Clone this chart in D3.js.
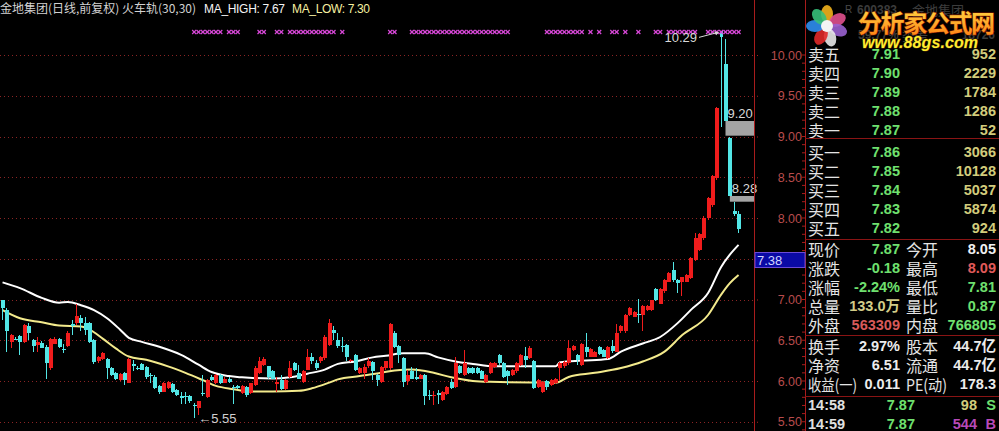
<!DOCTYPE html>
<html><head><meta charset="utf-8">
<script src="https://cdn.jsdelivr.net/npm/d3@7/dist/d3.min.js"></script>
<style>
html,body{margin:0;padding:0;background:#000;overflow:hidden}
svg{display:block}
</style></head><body>
<svg id="c" width="999" height="431"></svg>
<script>
// ---------------- DATA ----------------
const stockTitle = "金地集团(日线,前复权) 火车轨(30,30)";
const maHighText = "MA_HIGH: 7.67";
const maLowText = "MA_LOW: 7.30";

const openP = [6.99,6.87,6.48,6.52,6.55,6.48,6.67,6.50,6.44,6.47,
6.42,6.16,6.46,6.51,6.39,6.43,6.70,6.71,6.77,6.71,
6.71,6.50,6.24,6.27,6.27,6.16,6.10,6.01,6.10,5.98,
6.21,6.16,6.21,6.17,6.07,6.05,5.94,5.87,5.91,5.96,
5.89,5.81,5.81,5.82,5.71,5.67,5.85,5.80,6.05,5.97,
6.07,5.98,6.03,5.93,5.94,5.85,5.93,5.85,5.95,6.10,
6.20,6.18,6.12,5.96,6.01,5.90,6.05,6.22,6.10,5.99,
6.14,6.30,6.22,6.24,6.28,6.44,6.62,6.50,6.43,6.44,
6.24,6.32,6.10,6.10,6.18,6.23,6.07,5.99,6.16,6.16,
6.59,6.43,6.28,6.00,6.12,6.05,6.03,6.07,5.83,5.82,
5.85,5.77,5.84,5.99,5.93,6.18,6.07,6.16,6.16,6.16,
6.12,5.99,6.10,6.17,6.32,6.22,6.12,6.07,6.12,6.20,
6.31,6.28,6.25,5.93,5.87,6.00,5.95,5.97,6.16,6.18,
6.22,6.38,6.32,6.20,6.42,6.30,6.30,6.42,6.38,6.28,
6.43,6.36,6.61,6.61,6.81,6.79,6.82,6.81,6.87,6.87,
7.13,6.95,7.10,7.22,7.36,7.24,7.22,7.22,7.26,7.49,
7.61,7.75,8.00,8.16,8.49,10.29,9.89,8.98,8.08,8.05];
const highP = [7.00,6.90,6.58,6.54,6.57,6.70,6.71,6.52,6.54,6.49,
6.44,6.53,6.54,6.53,6.46,6.61,6.75,6.95,6.81,6.79,
6.73,6.52,6.31,6.35,6.28,6.17,6.11,6.10,6.11,6.28,
6.26,6.18,6.22,6.18,6.10,6.07,5.95,5.99,6.00,5.98,
5.90,5.87,5.87,5.83,5.73,5.76,6.07,6.03,6.07,6.09,
6.09,6.05,6.05,5.95,5.95,5.95,5.94,5.98,6.18,6.29,
6.30,6.19,6.13,6.05,6.07,6.03,6.24,6.23,6.20,6.13,
6.39,6.34,6.26,6.31,6.56,6.76,6.67,6.59,6.54,6.45,
6.27,6.33,6.17,6.21,6.28,6.24,6.09,6.18,6.25,6.71,
6.61,6.44,6.29,6.14,6.17,6.16,6.09,6.09,5.89,5.88,
5.89,5.88,5.94,6.03,6.30,6.20,6.38,6.17,6.17,6.17,
6.13,6.09,6.23,6.23,6.33,6.23,6.13,6.15,6.23,6.33,
6.42,6.43,6.26,6.02,6.00,6.01,6.02,6.04,6.23,6.24,
6.50,6.44,6.33,6.47,6.59,6.40,6.37,6.43,6.39,6.43,
6.50,6.70,6.69,6.82,6.91,6.86,7.01,6.93,6.93,7.00,
7.14,7.14,7.25,7.34,7.46,7.25,7.28,7.31,7.52,7.81,
7.82,8.02,8.26,8.53,9.36,10.29,10.20,9.00,8.20,8.09];
const lowP = [6.75,6.36,6.40,6.50,6.32,6.47,6.50,6.36,6.36,6.40,
6.02,6.14,6.45,6.41,6.34,6.42,6.56,6.69,6.61,6.56,
6.47,6.21,6.22,6.26,6.03,6.06,6.01,6.00,5.95,5.97,
6.12,6.13,6.13,6.03,5.97,5.90,5.84,5.86,5.90,5.85,
5.81,5.72,5.72,5.73,5.55,5.58,5.81,5.79,6.00,5.96,
5.96,5.97,5.98,5.72,5.90,5.84,5.80,5.84,5.94,6.08,
6.18,6.03,6.02,5.87,5.89,5.89,6.04,6.12,6.02,5.98,
6.13,6.21,6.14,6.22,6.26,6.43,6.50,6.40,6.36,6.24,
6.23,6.12,6.09,6.03,6.16,6.01,5.94,5.98,6.14,6.14,
6.41,6.22,5.93,5.95,6.02,6.01,6.02,5.71,5.77,5.71,
5.72,5.75,5.83,5.90,5.92,6.09,6.06,6.08,6.09,6.09,
6.02,5.97,6.08,6.16,6.20,6.04,5.95,6.06,6.10,6.18,
6.16,6.27,5.90,5.92,5.85,5.89,5.94,5.96,6.01,6.16,
6.20,6.37,6.20,6.18,6.30,6.29,6.29,6.32,6.29,6.27,
6.34,6.35,6.59,6.59,6.80,6.78,6.71,6.61,6.86,6.86,
6.98,6.94,7.08,7.21,7.22,7.08,7.04,7.21,7.25,7.47,
7.59,7.73,7.98,8.14,8.47,9.12,9.19,8.27,8.02,7.81];
const closeP = [6.89,6.61,6.56,6.51,6.48,6.69,6.59,6.43,6.48,6.41,
6.22,6.52,6.52,6.42,6.38,6.59,6.67,6.80,6.71,6.63,
6.48,6.23,6.30,6.34,6.16,6.07,6.02,6.09,6.01,6.27,
6.18,6.15,6.14,6.05,6.06,5.91,5.86,5.98,5.99,5.87,
5.83,5.79,5.80,5.75,5.69,5.75,5.84,6.01,6.01,6.07,
5.97,6.03,5.99,5.92,5.91,5.94,5.83,5.97,6.16,6.24,
6.27,6.05,6.03,5.99,5.90,6.01,6.16,6.14,6.03,6.12,
6.29,6.24,6.16,6.30,6.54,6.71,6.59,6.43,6.42,6.30,
6.26,6.14,6.16,6.17,6.24,6.12,6.01,6.17,6.24,6.70,
6.42,6.32,5.99,6.07,6.03,6.03,6.07,5.82,5.82,5.83,
5.83,5.87,5.93,5.91,6.22,6.10,6.22,6.10,6.10,6.10,
6.03,6.07,6.22,6.22,6.22,6.05,6.06,6.14,6.22,6.32,
6.26,6.41,5.91,6.01,5.99,5.93,6.01,6.03,6.22,6.23,
6.41,6.43,6.26,6.46,6.36,6.39,6.36,6.33,6.30,6.42,
6.37,6.59,6.68,6.81,6.89,6.85,6.81,6.92,6.92,6.99,
6.99,7.13,7.24,7.33,7.24,7.20,7.27,7.30,7.51,7.75,
7.80,8.00,8.24,8.51,9.35,10.22,9.19,8.27,8.05,7.87];

// MA_HIGH (white) and MA_LOW (yellow): candle index / value
const maHighIdx = [0,4,9,13,15,18,21,24,27,29,32,36,41,45,48,52,55,62,66,70,74,77,81,85,88,92,97,100,104,108,113,123,127,128,133,139,142,147,151,155,158,162,165,167,169];
const maHighVal = [7.21,7.14,7.02,6.96,6.97,6.93,6.87,6.77,6.63,6.53,6.48,6.42,6.32,6.20,6.11,6.06,6.045,6.03,6.045,6.09,6.14,6.21,6.24,6.29,6.31,6.34,6.34,6.29,6.24,6.21,6.18,6.18,6.18,6.23,6.25,6.27,6.36,6.46,6.54,6.71,6.87,7.08,7.40,7.55,7.67];
const maLowIdx = [0,4,9,13,18,20,23,26,29,33,38,42,46,49,53,57,62,68,71,75,77,82,87,90,94,99,103,108,112,127,130,136,142,147,152,156,162,165,167,169];
const maLowVal = [6.87,6.77,6.72,6.68,6.67,6.63,6.52,6.40,6.30,6.26,6.18,6.10,6.01,5.94,5.90,5.87,5.87,5.88,5.91,5.98,6.02,6.06,6.10,6.13,6.14,6.10,6.045,6.00,5.99,5.98,6.05,6.10,6.16,6.24,6.36,6.56,6.81,7.06,7.20,7.30];

// signal marks at top (candle indices)
const signalIdx = [44,45,46,47,48,49,50,52,53,54,59,60,63,64,66,67,68,69,70,71,72,73,74,75,76,78,89,90,
94,95,96,97,98,99,100,101,102,103,104,105,106,107,108,109,110,111,112,113,114,115,116,
125,126,127,128,129,130,131,132,133,135,137,140,141,143,146,150,151,153,154,155,156,157,158,159,
162,163,164,165,166,167,168,169];

// price gaps (from candle index, top, bottom, label)
const gapFrom = [166,167];
const gapTop = [9.19,8.27];
const gapBottom = [9.01,8.20];
const gapLabel = ["9.20","8.28"];

const yTicks = [5.5,6.0,6.5,7.0,7.5,8.0,8.5,9.0,9.5,10.0];
const cursorPrice = "7.38";

// right panel
const askLabels = ["卖五","卖四","卖三","卖二","卖一"];
const askPrices = ["7.91","7.90","7.89","7.88","7.87"];
const askVols = ["952","2229","1784","1286","52"];
const bidLabels = ["买一","买二","买三","买四","买五"];
const bidPrices = ["7.86","7.85","7.84","7.83","7.82"];
const bidVols = ["3066","10128","5037","5874","924"];
const quoteL1 = ["现价","涨跌","涨幅","总量","外盘"];
const quoteV1 = ["7.87","-0.18","-2.24%","133.0万","563309"];
const quoteC1 = ["#6fe06f","#6fe06f","#6fe06f","#d2cc88","#d85a5a"];
const quoteL2 = ["今开","最高","最低","量比","内盘"];
const quoteV2 = ["8.05","8.09","7.81","0.87","766805"];
const quoteC2 = ["#f0f0f0","#e05a5a","#6fe06f","#6fe06f","#6fe06f"];
const finL1 = ["换手","净资","收益(一)"];
const finV1 = ["2.97%","6.51","0.011"];
const finL2 = ["股本","流通","PE(动)"];
const finV2 = ["44.7亿","44.7亿","178.3"];
const tickTime = ["14:58","14:59"];
const tickPrice = ["7.87","7.87"];
const tickVol = ["98","544"];
const tickSide = ["S","B"];

// ---------------- DRAW ----------------
const svg = d3.select("#c");
svg.append("rect").attr("width",999).attr("height",431).attr("fill","#000");

const N = openP.length;
const y = d3.scaleLinear().domain([5.5,10]).range([421.75,55]);
const x = d3.scaleBand().domain(d3.range(N)).range([0.8,740.3]).paddingInner(0.2);
const cx = i => x(i) + x.bandwidth()/2;
const plotRight = 754, axisRight = 805;

// grid
svg.append("g").selectAll("line").data(yTicks).join("line")
  .attr("x1",0).attr("x2",plotRight).attr("y1",d=>Math.round(y(d))+0.5).attr("y2",d=>Math.round(y(d))+0.5)
  .attr("stroke","#8a2424").attr("stroke-dasharray","1,3");

// MA lines
const lineGen = d3.line().x(d=>cx(d[0])).y(d=>y(d[1])).curve(d3.curveMonotoneX);
svg.append("path").datum(maHighIdx.map((d,k)=>[d,maHighVal[k]]))
  .attr("d",lineGen).attr("fill","none").attr("stroke","#ffffff").attr("stroke-width",2);
svg.append("path").datum(maLowIdx.map((d,k)=>[d,maLowVal[k]]))
  .attr("d",lineGen).attr("fill","none").attr("stroke","#f3ea8c").attr("stroke-width",2);

// candles
const UP = "#f01c1c", DN = "#52e6e6";
const cg = svg.append("g").attr("shape-rendering","crispEdges");
const idx = d3.range(N);
cg.selectAll("line").data(idx).join("line")
  .attr("x1",i=>Math.floor(cx(i))+0.5).attr("x2",i=>Math.floor(cx(i))+0.5)
  .attr("y1",i=>y(highP[i])).attr("y2",i=>y(lowP[i]))
  .attr("stroke",i=>closeP[i]>=openP[i]?UP:DN).attr("stroke-width",1);
cg.selectAll("rect").data(idx).join("rect")
  .attr("x",i=>Math.floor(cx(i))-1).attr("width",i=> i===165?3:4)
  .attr("y",i=>y(Math.max(openP[i],closeP[i])))
  .attr("height",i=>Math.max(1,Math.abs(y(openP[i])-y(closeP[i]))))
  .attr("fill",i=>closeP[i]>=openP[i]?UP:DN);

// gaps
gapFrom.forEach((g,k)=>{
  svg.append("rect").attr("x",cx(g)).attr("y",y(gapTop[k])).attr("width",plotRight-cx(g))
    .attr("height",y(gapBottom[k])-y(gapTop[k])).attr("fill","#a4a4a4");
  svg.append("text").attr("x",cx(g)+2).attr("y",y(gapTop[k])-3).text(gapLabel[k])
    .attr("fill","#d8d8d8").style("font","13px 'Liberation Sans'");
});

// signal marks
const sg = svg.append("g").attr("stroke","#d848d8").attr("stroke-width",1.2);
signalIdx.forEach(i=>{
  const c = cx(i);
  sg.append("line").attr("x1",c-2).attr("x2",c+2).attr("y1",30).attr("y2",34);
  sg.append("line").attr("x1",c-2).attr("x2",c+2).attr("y1",34).attr("y2",30);
});

// high / low labels
const hiI = d3.maxIndex(highP), loI = d3.minIndex(lowP);
const fmt2 = d3.format(".2f");
svg.append("text").attr("x",697).attr("y",y(highP[hiI])+11).attr("text-anchor","end")
  .text(fmt2(highP[hiI])).attr("fill","#d8d8d8").style("font","13px 'Liberation Sans'");
svg.append("line").attr("x1",699).attr("y1",y(highP[hiI])+6).attr("x2",cx(hiI)-3).attr("y2",y(highP[hiI])+1)
  .attr("stroke","#d8d8d8");
svg.append("path").attr("d",`M${cx(hiI)-2},${y(highP[hiI])+1} l-5,-1 l2,4 z`).attr("fill","#d8d8d8");
svg.append("text").attr("x",cx(loI)+4).attr("y",y(lowP[loI])+5)
  .text("←"+fmt2(lowP[loI])).attr("fill","#d0d0d0").style("font","13px 'Liberation Sans'");

// axis
svg.append("line").attr("x1",plotRight+0.5).attr("x2",plotRight+0.5).attr("y1",0).attr("y2",431).attr("stroke","#a81c1c");
svg.append("line").attr("x1",axisRight+0.5).attr("x2",axisRight+0.5).attr("y1",0).attr("y2",431).attr("stroke","#a81c1c");
const ax = svg.append("g").attr("transform",`translate(${plotRight},0)`)
  .call(d3.axisRight(y).tickValues(yTicks).tickFormat(fmt2).tickSize(6));
ax.select(".domain").remove();
ax.selectAll(".tick line").attr("stroke","#a82020").attr("stroke-dasharray","1,2");
ax.selectAll(".tick text").attr("x",48).attr("text-anchor","end").attr("fill","#b84c4c")
  .style("font","12.5px 'Liberation Sans'");
// minor ticks
const minor = d3.range(55,432,8.15);
svg.append("g").selectAll("line").data(minor).join("line")
  .attr("x1",axisRight-3).attr("x2",axisRight).attr("y1",d=>d).attr("y2",d=>d).attr("stroke","#a81c1c");

// cursor price box
svg.append("rect").attr("x",plotRight+1).attr("y",252.5).attr("width",axisRight-plotRight-1).attr("height",15)
  .attr("fill","#0a0aa6").attr("stroke","#6a4ad8");
svg.append("text").attr("x",plotRight+3).attr("y",265).text(cursorPrice)
  .attr("fill","#d0d4ff").style("font","13px 'Liberation Sans'");

// title
svg.append("text").attr("x",0).attr("y",13).text(stockTitle).attr("fill","#d2d2d2")
  .attr("textLength",196).style("font","12px 'Noto Sans CJK SC'");
svg.append("text").attr("x",204).attr("y",13).text(maHighText).attr("fill","#f4f4f4")
  .attr("textLength",81).style("font","12px 'Liberation Sans'");
svg.append("text").attr("x",292).attr("y",13).text(maLowText).attr("fill","#f6f0a0")
  .attr("textLength",78).style("font","12px 'Liberation Sans'");

// ---------------- RIGHT PANEL ----------------
const P = svg.append("g");
const labFont = "16px 'Noto Sans CJK SC'";
const numFont = "bold 14.5px 'Liberation Sans','Noto Sans CJK SC'";
function lab(xp,yp,t,col,tl){const e=P.append("text").attr("x",xp).attr("y",yp).attr("dominant-baseline","central")
  .text(t).attr("fill",col||"#e4e4e4").style("font",labFont); if(tl) e.attr("textLength",tl).attr("lengthAdjust","spacingAndGlyphs");}
function num(xp,yp,t,col){P.append("text").attr("x",xp).attr("y",yp).attr("dominant-baseline","central")
  .attr("text-anchor","end").text(t).attr("fill",col).style("font",numFont);}
function sep(yp){P.append("line").attr("x1",axisRight).attr("x2",999).attr("y1",yp).attr("y2",yp).attr("stroke","#8a1414");}

// faint header under watermark
P.append("text").attr("x",845).attr("y",13).text("R").attr("fill","#4a4a4a").style("font","10px 'Liberation Sans'");
P.append("text").attr("x",857).attr("y",14).text("600383").attr("fill","#3c3c3c").style("font","bold 12px 'Liberation Sans'");
P.append("text").attr("x",912).attr("y",15).text("金地集团").attr("fill","#3c3c3c").style("font","13px 'Noto Sans CJK SC'");
P.append("text").attr("x",858).attr("y",39).text("59.77%").attr("fill","#3c3c3c").style("font","bold 12px 'Liberation Sans'");
P.append("text").attr("x",902).attr("y",40).text("委差").attr("fill","#3c3c3c").style("font","13px 'Noto Sans CJK SC'");
P.append("text").attr("x",995).attr("y",39).attr("text-anchor","end").text("18726").attr("fill","#3c3c3c").style("font","bold 12px 'Liberation Sans'");

const rowH = 19.05;
askLabels.forEach((t,k)=>{const yy=53.5+k*rowH; lab(808,yy,t); num(900,yy,askPrices[k],"#6fe06f"); num(996,yy,askVols[k],"#d2cc7c");});
sep(138.5);
bidLabels.forEach((t,k)=>{const yy=152+k*rowH; lab(808,yy,t); num(900,yy,bidPrices[k],"#6fe06f"); num(996,yy,bidVols[k],"#d2cc7c");});
sep(239.5);
quoteL1.forEach((t,k)=>{const yy=249+k*18.9; lab(808,yy,t); num(900,yy,quoteV1[k],quoteC1[k]); lab(906,yy,quoteL2[k]); num(996,yy,quoteV2[k],quoteC2[k]);});
sep(335.5);
finL1.forEach((t,k)=>{const yy=346+k*19.2; lab(808,yy,t,null,k===2?49:null); num(900,yy,finV1[k],"#ececec"); lab(906,yy,finL2[k],null,k===2?41:null); num(996,yy,finV2[k],"#ececec");});
sep(396.5);
tickTime.forEach((t,k)=>{const yy=405+k*18.5;
  P.append("text").attr("x",808).attr("y",yy).attr("dominant-baseline","central").text(t).attr("fill","#e0e0e0").style("font",numFont);
  num(915,yy,tickPrice[k],"#6fe06f");
  num(977,yy,tickVol[k],k===0?"#d2cc7c":"#b84ab8");
  num(996,yy,tickSide[k],k===0?"#6fe06f":"#b84ab8");
});

// ---------------- WATERMARK ----------------
const W = svg.append("g");
const petals = [["#f3b21c",-90],["#e0508e",-30],["#9a62d0",20],["#e8e8e8",75],["#e02828",120],["#2f8ef0",180],["#36c07a",230]];
petals.forEach(p=>{
  W.append("ellipse").attr("cx",0).attr("cy",0).attr("rx",9).attr("ry",6)
   .attr("transform",`translate(827,26) rotate(${p[1]}) translate(12,0)`).attr("fill",p[0]).attr("opacity",0.9);
});
W.append("circle").attr("cx",827).attr("cy",26).attr("r",6).attr("fill","#f4f4f4");
const defs = svg.append("defs");
const lg = defs.append("linearGradient").attr("id","wg").attr("x1",0).attr("y1",0).attr("x2",0).attr("y2",1);
lg.append("stop").attr("offset","0%").attr("stop-color","#ffe24a");
lg.append("stop").attr("offset","100%").attr("stop-color","#ff7a10");
W.append("text").attr("x",858).attr("y",32).text("分析家公式网").attr("textLength",137)
  .attr("fill","url(#wg)").attr("stroke","#7a1a00").attr("stroke-width",1.2).attr("paint-order","stroke")
  .style("font","bold 24px 'Noto Sans CJK SC'");
W.append("text").attr("x",862).attr("y",48).text("www.88gs.com").attr("textLength",116)
  .attr("fill","#ffec30").attr("stroke","#5a3000").attr("stroke-width",0.8).attr("paint-order","stroke")
  .style("font","italic bold 16px 'Liberation Sans'");
</script></body></html>
